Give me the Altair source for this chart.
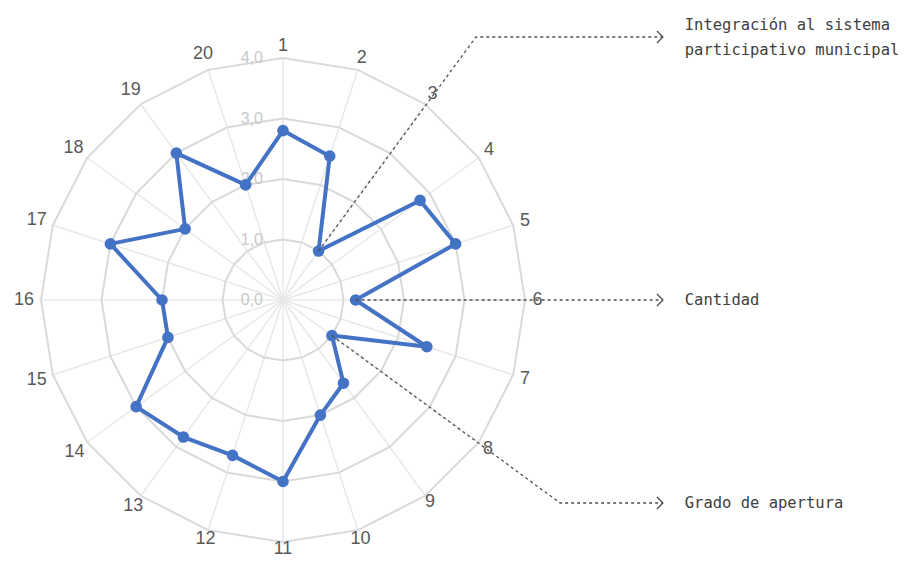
import altair as alt
import pandas as pd
import numpy as np

# ---- data ----
axis_labels = [str(i) for i in range(1, 21)]
values = [2.8, 2.5, 1.0, 2.8, 3.0, 1.2, 2.5, 1.0, 1.7, 2.0,
          3.0, 2.7, 2.8, 3.0, 2.0, 2.0, 3.0, 2.0, 3.0, 2.0]
ring_values = [1, 2, 3, 4]
tick_values = [0, 1, 2, 3, 4]
tick_labels = ["0,0", "1,0", "2,0", "3,0", "4,0"]
ann_axes = [3, 6, 8]
ann_lines = [["Integración al sistema", "participativo municipal"], ["Cantidad"], ["Grado de apertura"]]

# ---- layout (data units: 1 unit = one value step) ----
PX = 60.5
W, H = 890, 557
CX, CY = 275, 292
XDOM = [-CX / PX, (W - CX) / PX]
YDOM = [-(H - CY) / PX, CY / PX]
N = len(axis_labels)
RMAX = 4

def polar(r, k):
    a = 2 * np.pi * k / N
    return r * np.sin(a), r * np.cos(a)

# rings
ring_rows = []
for rv in ring_values:
    for j in range(N + 1):
        x, y = polar(rv, j % N)
        ring_rows.append({"ring": rv, "o": j, "x": x, "y": y})
rings = pd.DataFrame(ring_rows)

# spokes
sp = []
for k in range(N):
    x, y = polar(RMAX, k)
    sp.append({"x": 0.0, "y": 0.0, "x2": x, "y2": y})
spokes = pd.DataFrame(sp)

# series
ser = []
for j in range(N + 1):
    k = j % N
    x, y = polar(values[k], k)
    ser.append({"o": j, "x": x, "y": y, "label": axis_labels[k], "value": values[k]})
series = pd.DataFrame(ser)
points = series.iloc[:N]

# axis category labels
lab = []
for k, t in enumerate(axis_labels):
    a = 2 * np.pi * k / N
    rpx = 250 + 4.5 * len(t) - 10 * max(0.0, -np.cos(a)) ** 4
    x, y = polar(rpx / PX, k)
    lab.append({"x": x, "y": y, "t": t})
labels = pd.DataFrame(lab)

# tick labels
ticks = pd.DataFrame({"x": [0.0] * len(tick_values), "y": tick_values, "t": tick_labels})

# annotation leader lines (elbow and end positions)
elbows = [(3.19, 4.347), None, (4.58, -3.355)]
END_X = 6.28
TEXT_X = 6.64
ann_rows, arrow_rows, text_rows = [], [], []
for a, (ax_i, elb) in enumerate(zip(ann_axes, elbows)):
    k = ax_i - 1
    sx, sy = polar(values[k], k)
    pts = [(sx, sy)]
    if elb is not None:
        pts.append(elb)
        ey = elb[1]
    else:
        ey = sy
    pts.append((END_X, ey))
    for o, (x, y) in enumerate(pts):
        ann_rows.append({"a": a, "o": o, "x": x, "y": y})
    arrow_rows.append({"x": END_X, "y": ey})
    lines = ann_lines[a]
    n = len(lines)
    for li, t in enumerate(lines):
        off = ((n - 1) / 2 - li) * 25 / PX
        text_rows.append({"x": TEXT_X, "y": ey + off, "t": t})
ann = pd.DataFrame(ann_rows)
arrows = pd.DataFrame(arrow_rows)
texts = pd.DataFrame(text_rows)

xs = alt.Scale(domain=XDOM, nice=False, zero=False)
ys = alt.Scale(domain=YDOM, nice=False, zero=False)
X = lambda f="x": alt.X(f"{f}:Q", scale=xs, axis=None)
Y = lambda f="y": alt.Y(f"{f}:Q", scale=ys, axis=None)

spoke_layer = alt.Chart(spokes).mark_rule(color="#e8e8e8", strokeWidth=1.5).encode(
    x=X(), y=Y(), x2="x2:Q", y2="y2:Q")
ring_layer = alt.Chart(rings).mark_line(color="#d9d9d9", strokeWidth=2).encode(
    x=X(), y=Y(), detail="ring:N", order="o:Q")
tick_layer = alt.Chart(ticks).mark_text(align="right", baseline="middle", dx=-20,
                                        font="Liberation Sans", fontSize=16, color="#c8c8c8").encode(
    x=X(), y=Y(), text="t:N")
line_layer = alt.Chart(series).mark_line(color="#4472C4", strokeWidth=4, strokeJoin="round").encode(
    x=X(), y=Y(), order="o:Q")
pt_layer = alt.Chart(points).mark_circle(color="#4472C4", size=135, opacity=1).encode(
    x=X(), y=Y())
ann_layer = alt.Chart(ann).mark_line(color="#505050", strokeWidth=1.3, strokeDash=[3, 3]).encode(
    x=X(), y=Y(), detail="a:N", order="o:Q")
arrow_layer = alt.Chart(arrows).mark_point(shape="M-1.2,-1.2L0,0L-1.2,1.2", size=100, filled=False,
                                           color="#505050", strokeWidth=1.3, opacity=1).encode(
    x=X(), y=Y())
text_layer = alt.Chart(texts).mark_text(align="left", baseline="middle", font="DejaVu Sans Mono",
                                        fontSize=15.5, color="#404040").encode(
    x=X(), y=Y(), text="t:N")
label_layer = alt.Chart(labels).mark_text(align="center", baseline="middle", font="Liberation Sans",
                                          fontSize=18, color="#595959").encode(
    x=X(), y=Y(), text="t:N")

chart = alt.layer(spoke_layer, ring_layer, tick_layer, line_layer, pt_layer, ann_layer,
                  arrow_layer, text_layer, label_layer).properties(
    width=W, height=H, autosize=alt.AutoSizeParams(type="none"), padding=0,
    background="white"
).configure_view(stroke=None)

chart.save("out.html", embed_options={"renderer": "svg", "actions": False})
